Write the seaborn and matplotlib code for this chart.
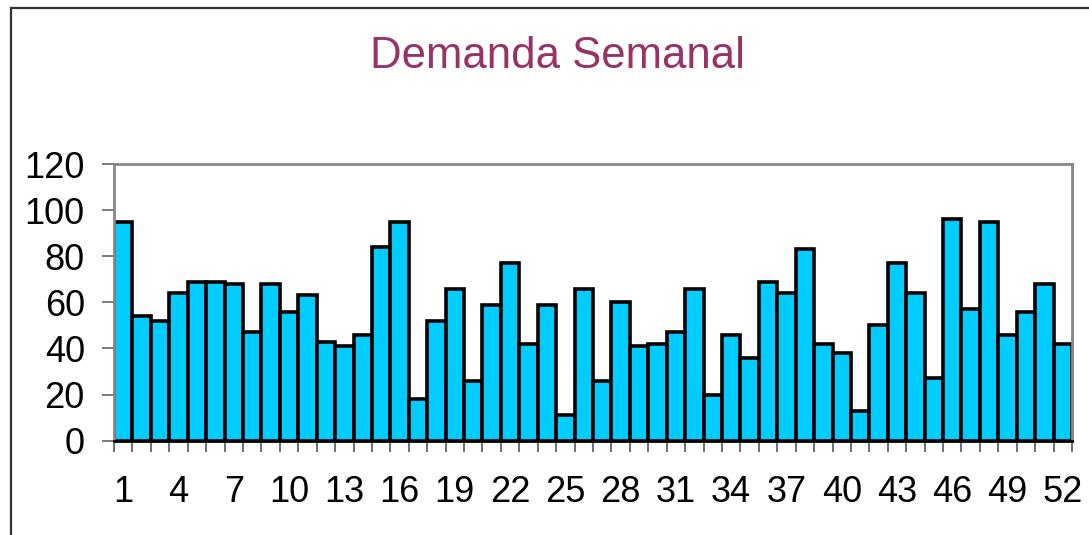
import matplotlib
matplotlib.use("Agg")
import matplotlib.pyplot as plt
import seaborn as sns
import pandas as pd
import numpy as np
from matplotlib.patches import Rectangle
from matplotlib.ticker import FixedLocator

weeks = list(range(1, 53))
demand = [95, 54, 52, 64, 69, 69, 68, 47, 68, 56, 63, 43, 41,
          46, 84, 95, 18, 52, 66, 26, 59, 77, 42, 59, 11, 66,
          26, 60, 41, 42, 47, 66, 20, 46, 36, 69, 64, 83, 42,
          38, 13, 50, 77, 64, 27, 96, 57, 95, 46, 56, 68, 42]
yticks = [0, 20, 40, 60, 80, 100, 120]
title = "Demanda Semanal"

sns.set_theme(style="white")
plt.rcParams['font.family'] = ['Liberation Sans', 'DejaVu Sans']

df = pd.DataFrame({"Semana": [str(w) for w in weeks], "Demanda": demand})

fig = plt.figure(figsize=(10.89, 5.35), dpi=100)
ax = fig.add_axes([114/1089, 1-440.7/535, (1072-114)/1089, (440.7-164)/535])

sns.barplot(data=df, x="Semana", y="Demanda", ax=ax, width=1.0,
            color="#00CCFF", saturation=1, edgecolor="black", linewidth=2.6)

ax.set_xlim(-0.5, len(weeks) - 0.5)
ax.set_ylim(0, 120)
ax.set_yticks(yticks)
ax.set_yticklabels([str(v) for v in yticks], fontsize=26)
ax.set_xticks(list(range(0, len(weeks), 3)))
ax.set_xticklabels([str(weeks[i]) for i in range(0, len(weeks), 3)], fontsize=26)
ax.xaxis.set_minor_locator(FixedLocator(np.arange(-0.5, len(weeks), 1.0)))
ax.tick_params(axis='x', which='major', length=0, pad=25, labelcolor='black')
ax.tick_params(axis='x', which='minor', length=8, width=1.2, color='#555555', bottom=True)
ax.tick_params(axis='y', which='major', length=9, width=1.2, color='#666666', pad=12,
               left=True, labelcolor='black')
ax.set_xlabel("")
ax.set_ylabel("")
for s in ["left", "top", "right"]:
    ax.spines[s].set_color("#888888")
    ax.spines[s].set_linewidth(2)
    ax.spines[s].set_visible(True)
ax.spines["bottom"].set_color("black")
ax.spines["bottom"].set_linewidth(2)
ax.spines["bottom"].set_visible(True)
ax.grid(False)

fig.text(557/1089, 1-57/535, title, fontsize=31.5, color="#993366",
         ha="center", va="center")

fig.patches.append(Rectangle((11/1089, -0.1), 1.2, 1 - 8/535 + 0.1,
                             transform=fig.transFigure, fill=False,
                             edgecolor="#333333", linewidth=1.6, zorder=0))

fig.savefig("out.png", dpi=100)
